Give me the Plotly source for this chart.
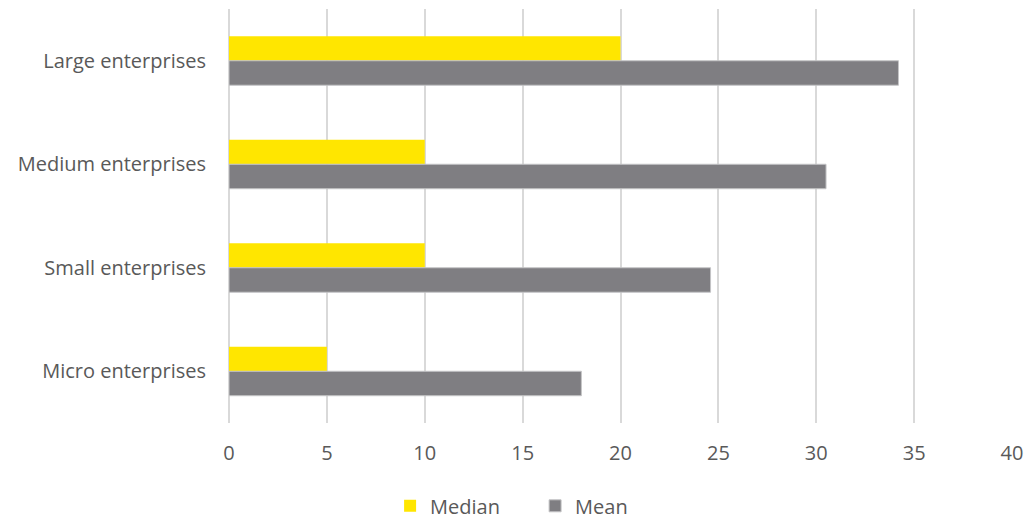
import plotly.graph_objects as go

categories = ["Large enterprises", "Medium enterprises", "Small enterprises", "Micro enterprises"]
median_values = [20, 10, 10, 5]
mean_values = [34.2, 30.5, 24.6, 18.0]
x_ticks = [0, 5, 10, 15, 20, 25, 30, 35, 40]

FONT = "Open Sans"
TEXT = "#595959"
GRID = "#D9D9D9"

fig = go.Figure()
fig.add_trace(go.Bar(
    name="Median", y=categories, x=median_values, orientation="h",
    marker=dict(color="#FFE600", line=dict(width=0)),
))
fig.add_trace(go.Bar(
    name="Mean", y=categories, x=mean_values, orientation="h",
    marker=dict(color="#7F7E82", line=dict(color="#C4C4C6", width=1)),
))

fig.update_layout(
    width=1032, height=522,
    margin=dict(l=229, r=14, t=9, b=99),
    paper_bgcolor="white", plot_bgcolor="white",
    barmode="group", bargap=0.527, bargroupgap=0,
    font=dict(family=FONT, size=20, color=TEXT),
    legend=dict(
        orientation="h", xref="container", yref="container",
        x=0.378, xanchor="left", y=0.031, yanchor="middle",
        font=dict(family=FONT, size=20, color=TEXT),
        entrywidth=100, itemwidth=30, traceorder="normal",
    ),
    xaxis=dict(
        range=[0, 40], tickvals=x_ticks, ticktext=[str(v) for v in x_ticks],
        showgrid=True, gridcolor=GRID, gridwidth=1.5,
        zeroline=True, zerolinecolor=GRID, zerolinewidth=1.5,
        showline=False, ticks="",
        ticklabelstandoff=16,
        tickfont=dict(family=FONT, size=20, color=TEXT),
    ),
    yaxis=dict(
        autorange="reversed", showgrid=False, zeroline=False, showline=False,
        ticks="", ticklabelstandoff=22,
        tickfont=dict(family=FONT, size=20, color=TEXT),
    ),
    showlegend=True,
)

fig.write_html("out.html")
